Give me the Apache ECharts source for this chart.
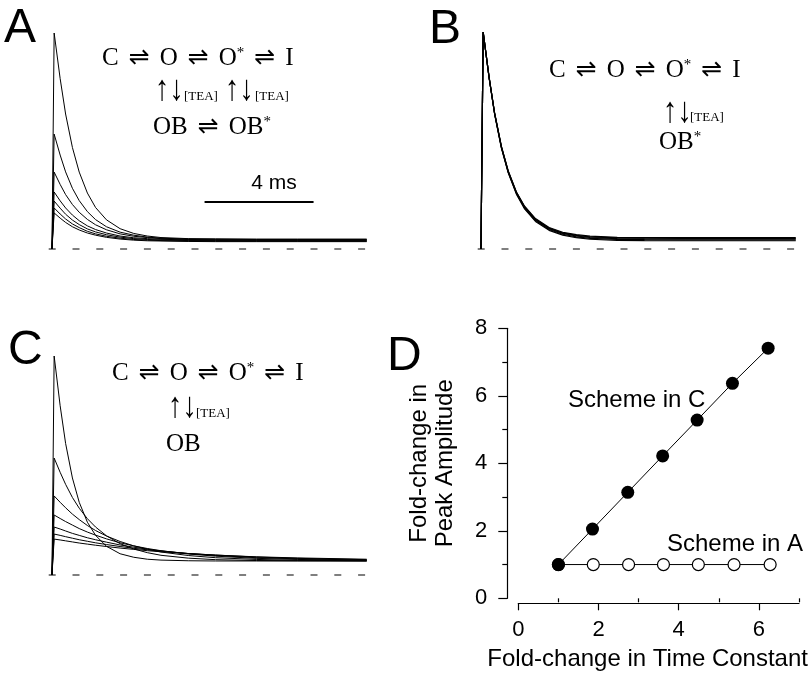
<!DOCTYPE html>
<html><head><meta charset="utf-8">
<script src="https://cdn.jsdelivr.net/npm/echarts@6/dist/echarts.min.js"></script>
<style>html,body{margin:0;padding:0;background:#fff}#c{width:812px;height:675px}</style>
</head><body><div id="c"></div>
<script>
// ---- data ----
// sample times of the current traces, ms from the start of the pulse
const timeMs = [0, 0.08, 0.3, 0.5, 0.75, 1.0, 1.3, 1.6, 2.0, 2.5, 3.0, 3.5, 4.0, 5.0, 6.0, 7.5, 9.0, 11.55];
// Panel A traces (current, % of control peak)
const traceA1 = [0, 100, 78.9, 62.5, 47.0, 35.6, 25.9, 19.2, 13.5, 9.4, 7.2, 6.0, 5.3, 4.8, 4.7, 4.6, 4.6, 4.6];
const traceA2 = [0, 53.2, 43.5, 35.7, 28.1, 22.4, 17.3, 13.6, 10.3, 7.8, 6.4, 5.5, 5.0, 4.6, 4.5, 4.4, 4.4, 4.4];
const traceA3 = [0, 35.6, 29.9, 25.2, 20.6, 17.0, 13.7, 11.2, 8.9, 7.0, 5.9, 5.3, 4.8, 4.4, 4.3, 4.2, 4.2, 4.2];
const traceA4 = [0, 26.4, 22.3, 19.0, 15.7, 13.1, 10.7, 9.0, 7.4, 6.0, 5.2, 4.8, 4.5, 4.2, 4.1, 4.0, 4.0, 4.0];
const traceA5 = [0, 22.2, 18.9, 16.1, 13.4, 11.3, 9.3, 7.9, 6.6, 5.5, 4.8, 4.4, 4.2, 3.9, 3.9, 3.8, 3.8, 3.8];
const traceA6 = [0, 19.0, 16.2, 13.9, 11.6, 9.9, 8.2, 7.0, 5.9, 5.0, 4.4, 4.1, 3.9, 3.7, 3.6, 3.6, 3.6, 3.6];
const traceA7 = [0, 16.7, 14.3, 12.3, 10.3, 8.8, 7.4, 6.4, 5.4, 4.6, 4.1, 3.8, 3.7, 3.5, 3.4, 3.4, 3.4, 3.4];
// Panel B traces (all superimposed)
const traceB1 = [0, 100, 78.7, 62.2, 46.5, 35.1, 25.3, 18.5, 12.7, 8.6, 6.4, 5.2, 4.5, 4.0, 3.9, 3.8, 3.8, 3.8];
const traceB2 = [0, 100, 78.8, 62.4, 46.7, 35.3, 25.6, 18.9, 13.1, 9.0, 6.8, 5.6, 4.9, 4.4, 4.3, 4.2, 4.2, 4.2];
const traceB3 = [0, 100, 78.9, 62.5, 47.0, 35.6, 25.9, 19.2, 13.5, 9.4, 7.2, 6.0, 5.3, 4.8, 4.7, 4.6, 4.6, 4.6];
const traceB4 = [0, 100, 79.0, 62.6, 47.1, 35.8, 26.1, 19.5, 13.7, 9.6, 7.4, 6.3, 5.6, 5.1, 5.0, 4.9, 4.9, 4.9];
const traceB5 = [0, 100, 79.0, 62.7, 47.3, 36.0, 26.3, 19.7, 14.0, 9.9, 7.7, 6.6, 5.9, 5.4, 5.3, 5.2, 5.2, 5.2];
// Panel C traces
const traceC1 = [0, 100, 77.3, 60.1, 44.3, 33.2, 24.1, 18.1, 13.1, 9.7, 8.1, 7.2, 6.8, 6.5, 6.4, 6.4, 6.4, 6.4];
const traceC2 = [0, 53.4, 46.9, 41.4, 35.4, 30.5, 25.7, 21.9, 17.9, 14.3, 11.9, 10.2, 9.0, 7.7, 7.0, 6.6, 6.5, 6.4];
const traceC3 = [0, 36.1, 33.2, 30.7, 27.8, 25.3, 22.6, 20.3, 17.8, 15.3, 13.3, 11.8, 10.5, 8.9, 7.9, 7.1, 6.7, 6.5];
const traceC4 = [0, 27.4, 25.8, 24.4, 22.8, 21.2, 19.6, 18.2, 16.5, 14.7, 13.3, 12.1, 11.1, 9.6, 8.6, 7.6, 7.1, 6.7];
const traceC5 = [0, 21.9, 21.0, 20.1, 19.0, 18.1, 17.0, 16.1, 15.0, 13.7, 12.7, 11.8, 11.0, 9.8, 8.9, 7.9, 7.4, 6.8];
const traceC6 = [0, 18.7, 18.1, 17.5, 16.8, 16.1, 15.4, 14.7, 13.9, 13.0, 12.2, 11.5, 10.9, 9.8, 9.1, 8.2, 7.6, 7.0];
const traceC7 = [0, 16.4, 16.0, 15.6, 15.1, 14.6, 14.1, 13.6, 13.0, 12.3, 11.7, 11.1, 10.6, 9.8, 9.1, 8.3, 7.8, 7.2];
// zero-current baseline (dashed) and 4 ms scale bar
const baselineMs = [-0.12, 11.55];
const scaleBarMs = [5.6, 9.6];
const scaleBarLevel = 21.8;
// Panel D
const schemeCx = [1.0, 1.85, 2.73, 3.6, 4.46, 5.34, 6.23];
const schemeCy = [1.0, 2.05, 3.14, 4.22, 5.28, 6.37, 7.41];
const schemeAx = [1.0, 1.87, 2.75, 3.62, 4.49, 5.38, 6.28];
const schemeAy = [1.0, 1.0, 1.0, 1.0, 1.0, 1.0, 1.0];
const xTicksMajor = [0, 2, 4, 6];
const xTicksMinor = [1, 3, 5, 7];

// ---- chart ----
const sans = "'Liberation Sans', Arial, Helvetica, sans-serif";
const serif = "'Liberation Serif', 'Times New Roman', serif";
const chart = echarts.init(document.getElementById('c'), null, {renderer: 'canvas'});

function trace(vals, idx, w) {
  return {type: 'line', xAxisIndex: idx, yAxisIndex: idx, data: timeMs.map((t, i) => [t, vals[i]]),
    symbol: 'none', silent: true, lineStyle: {color: '#000', width: w || 1}, z: 2};
}
function baseline(idx) {
  return {type: 'line', xAxisIndex: idx, yAxisIndex: idx, data: baselineMs.map(t => [t, 0]),
    symbol: 'none', silent: true, lineStyle: {color: '#000', width: 1.2, type: [7, 16.8]}, z: 1};
}
const hiddenX = (gi, max) => ({gridIndex: gi, type: 'value', min: -0.3, max: max, show: false});
const hiddenY = (gi) => ({gridIndex: gi, type: 'value', min: -5, max: 105, show: false});

const richScheme = {
  t: {fontFamily: serif, fontSize: 25, fill: '#000'},
  h: {fontFamily: "'DejaVu Sans', sans-serif", fontSize: 25, width: 41, align: 'center', fill: '#000'},
  s: {fontFamily: serif, fontSize: 15, verticalAlign: 'top', fill: '#000'}
};
function schemeText(x, y, text) {
  return {type: 'text', x: x, y: y, silent: true,
    style: {text: text, rich: richScheme, align: 'left', verticalAlign: 'middle', textAlign: 'left', textVerticalAlign: 'middle'}};
}
function arrows(x, y) {
  return {type: 'text', x: x, y: y, scaleX: 0.8, silent: true,
    style: {text: '↑↓', fontFamily: serif, fontSize: 36, fill: '#000', align: 'left', verticalAlign: 'middle',
      textAlign: 'left', textVerticalAlign: 'middle'}};
}
function tea(x, y) {
  return {type: 'text', x: x, y: y, silent: true,
    style: {text: '[TEA]', fontFamily: serif, fontSize: 13, fill: '#000', align: 'left', verticalAlign: 'middle',
      textAlign: 'left', textVerticalAlign: 'middle'}};
}
function plainText(x, y, text, size, align) {
  return {type: 'text', x: x, y: y, silent: true,
    style: {text: text, fontFamily: sans, fontSize: size, fill: '#000', align: align || 'left', verticalAlign: 'middle',
      textAlign: align || 'left', textVerticalAlign: 'middle'}};
}
const line1 = '{t|C}{h|⇌}{t|O}{h|⇌}{t|O}{s|*}{h|⇌}{t|I}';

const option = {
  animation: false,
  backgroundColor: '#fff',
  grid: [
    {left: 43.8, top: 22.2, width: 322.9, height: 237.6},
    {left: 472.8, top: 21.15, width: 324.3, height: 238.7},
    {left: 43.8, top: 345.05, width: 322.9, height: 240.9},
    {left: 518.3, top: 328.3, width: 280.7, height: 270}
  ],
  xAxis: [
    hiddenX(0, 11.55), hiddenX(1, 11.6), hiddenX(2, 11.55),
    {gridIndex: 3, type: 'value', min: 0, max: 7, interval: 1, position: 'bottom', offset: 5,
      axisLine: {show: true, onZero: false, lineStyle: {color: '#000', width: 1.2}},
      axisTick: {show: true, length: 7, customValues: xTicksMajor, lineStyle: {color: '#000', width: 1.2}},
      axisLabel: {customValues: xTicksMajor, fontFamily: sans, fontSize: 22, color: '#000', margin: 16},
      splitLine: {show: false},
      name: 'Fold-change in Time Constant', nameLocation: 'middle', nameGap: 44,
      nameTextStyle: {fontFamily: sans, fontSize: 24, color: '#000', padding: [0, 22, 0, 0]}},
    {gridIndex: 3, type: 'value', min: 0, max: 7, interval: 1, position: 'bottom', offset: 5,
      axisLine: {show: false},
      axisTick: {show: true, length: 4, customValues: xTicksMinor, lineStyle: {color: '#000', width: 1.2}},
      axisLabel: {show: false}, splitLine: {show: false}}
  ],
  yAxis: [
    hiddenY(0), hiddenY(1), hiddenY(2),
    {gridIndex: 3, type: 'value', min: 0, max: 8, interval: 2, position: 'left', offset: 11,
      axisLine: {show: true, onZero: false, lineStyle: {color: '#000', width: 1.2}},
      axisTick: {show: true, length: 9, lineStyle: {color: '#000', width: 1.2}},
      minorTick: {show: true, splitNumber: 2, length: 5, lineStyle: {color: '#000', width: 1.2}},
      axisLabel: {fontFamily: sans, fontSize: 22, color: '#000', margin: 20},
      splitLine: {show: false}, minorSplitLine: {show: false},
      name: 'Fold-change in\nPeak Amplitude', nameLocation: 'middle', nameRotate: 90, nameGap: 49,
      nameTextStyle: {fontFamily: sans, fontSize: 24, color: '#000', lineHeight: 26}}
  ],
  series: [
    baseline(0), baseline(1), baseline(2),
    trace(traceA7, 0), trace(traceA6, 0), trace(traceA5, 0), trace(traceA4, 0), trace(traceA3, 0), trace(traceA2, 0), trace(traceA1, 0),
    trace(traceB1, 1, 1.2), trace(traceB2, 1, 1.2), trace(traceB3, 1, 1.2), trace(traceB4, 1, 1.2), trace(traceB5, 1, 1.2),
    trace(traceC7, 2), trace(traceC6, 2), trace(traceC5, 2), trace(traceC4, 2), trace(traceC3, 2), trace(traceC2, 2), trace(traceC1, 2),
    {type: 'line', xAxisIndex: 0, yAxisIndex: 0, data: scaleBarMs.map(t => [t, scaleBarLevel]), symbol: 'none', silent: true,
      lineStyle: {color: '#000', width: 2}},
    {type: 'line', xAxisIndex: 3, yAxisIndex: 3, data: schemeAx.map((x, i) => [x, schemeAy[i]]),
      symbol: 'circle', symbolSize: 12, silent: true,
      lineStyle: {color: '#000', width: 1}, itemStyle: {color: '#fff', borderColor: '#000', borderWidth: 1.2}, z: 3},
    {type: 'line', xAxisIndex: 3, yAxisIndex: 3, data: schemeCx.map((x, i) => [x, schemeCy[i]]),
      symbol: 'circle', symbolSize: 13, silent: true,
      lineStyle: {color: '#000', width: 1}, itemStyle: {color: '#000', borderColor: '#000', borderWidth: 0}, z: 4}
  ],
  graphic: [
    plainText(4, 29, 'A', 48), plainText(429, 29.5, 'B', 48), plainText(8, 351, 'C', 48), plainText(387, 357, 'D', 48),
    plainText(274, 183, '4 ms', 21, 'center'),
    schemeText(102, 58, line1),
    arrows(155, 91), tea(184, 97), arrows(225, 91), tea(255, 97),
    schemeText(153, 127, '{t|OB}{h|⇌}{t|OB}{s|*}'),
    schemeText(549, 70, line1),
    arrows(663, 113), tea(690, 118),
    schemeText(659, 142, '{t|OB}{s|*}'),
    schemeText(112, 373, line1),
    arrows(168, 408), tea(196, 414),
    schemeText(166, 444, '{t|OB}'),
    plainText(568, 400, 'Scheme in C', 24),
    plainText(667, 544, 'Scheme in A', 24)
  ]
};
chart.setOption(option);
</script>
</body></html>
